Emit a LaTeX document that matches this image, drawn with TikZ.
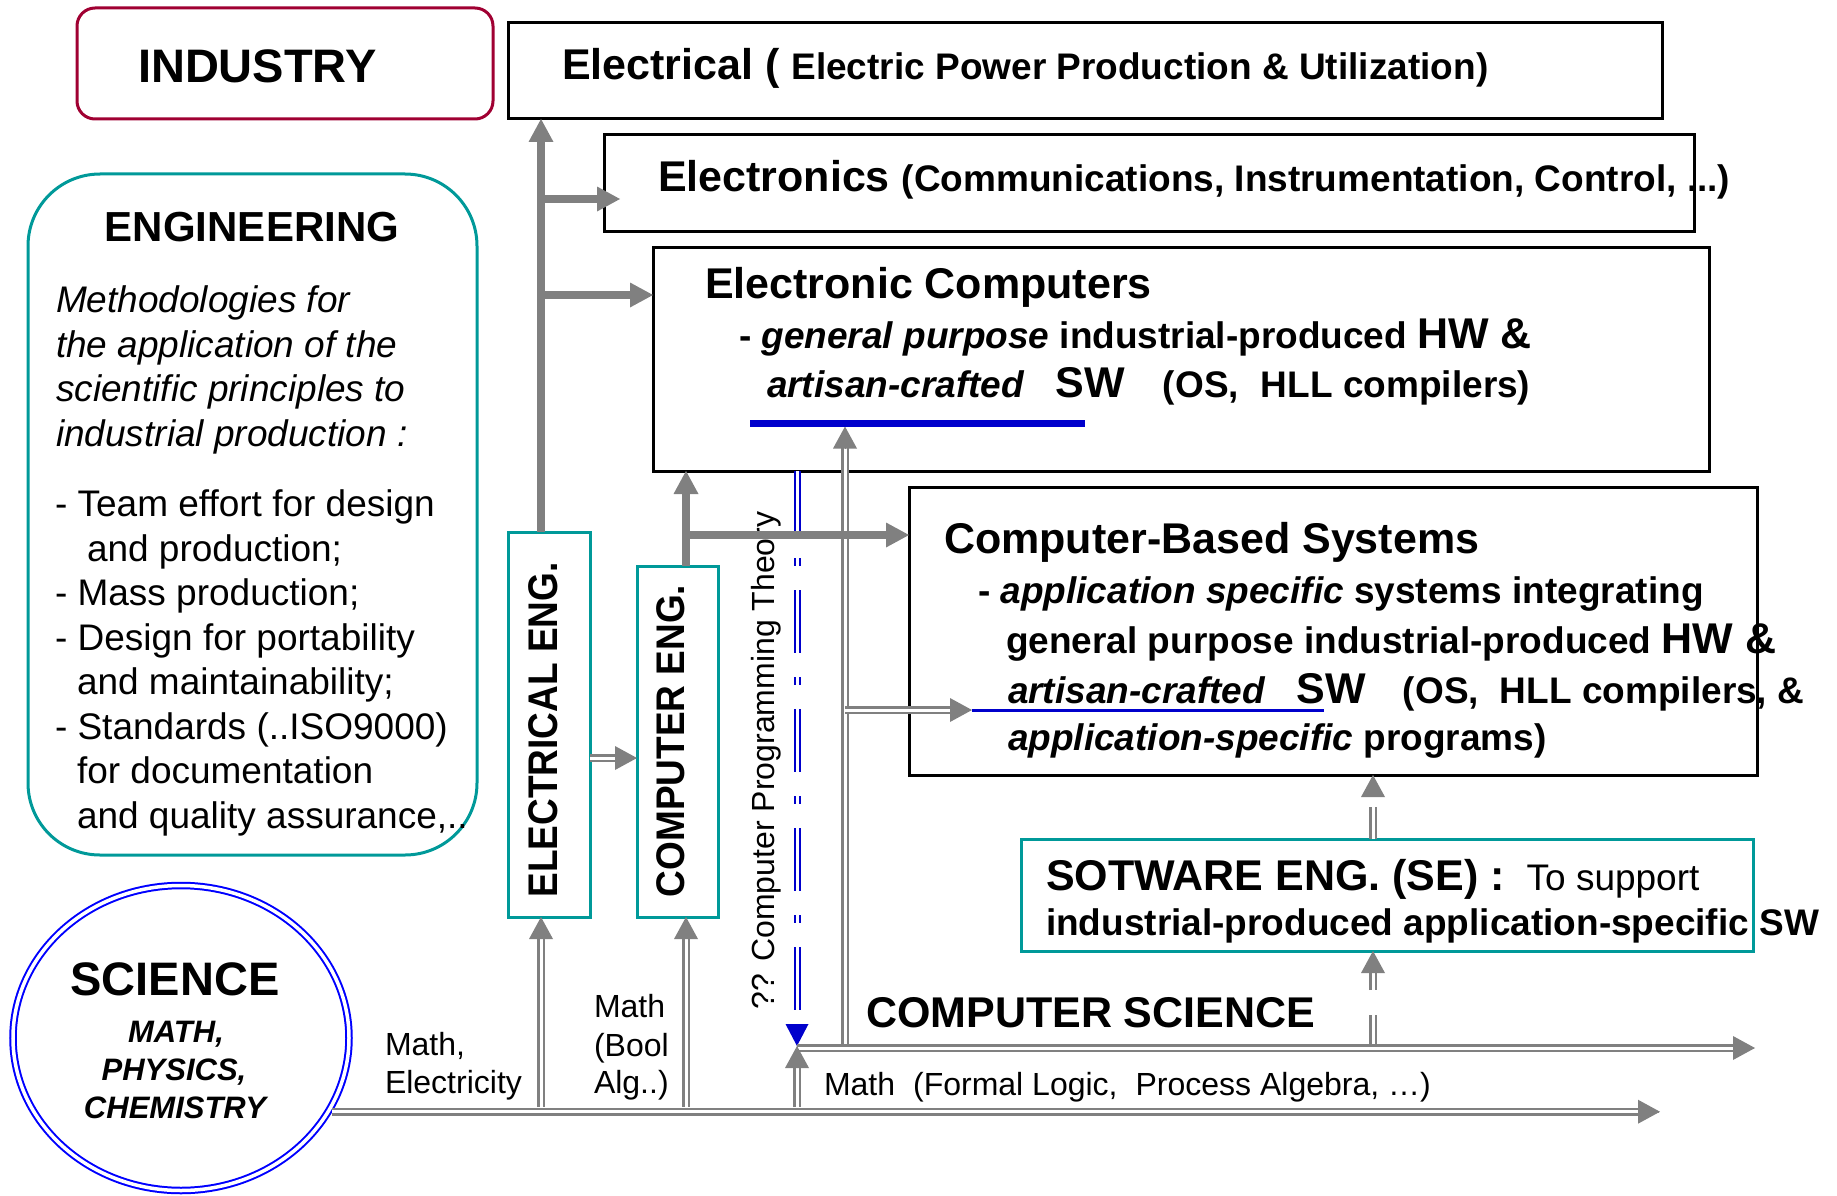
\documentclass[tikz,border=0pt]{standalone}
\usepackage{fontspec}
\setmainfont{Liberation Sans}
\usepackage{graphicx}
\usetikzlibrary{arrows.meta,shapes.geometric,calc}

\definecolor{engteal}{RGB}{0,153,153}
\definecolor{indred}{RGB}{160,0,50}
\definecolor{sciblue}{RGB}{0,0,255}
\definecolor{ulblue}{RGB}{0,0,204}
\definecolor{arrgray}{RGB}{128,128,128}

\newcommand\fsz[1]{\fontsize{#1}{#1}\selectfont}
% double-lined gray connector: hollow shaft, then a solid head
\newcommand\darrow[3][]{%
  \draw[dshaft,#1] (#2) -- (#3);
  \draw[dtip] ($(#3)!1pt!(#2)$) -- (#3);}

\tikzset{
  plainbox/.style={draw=black, line width=3pt, rectangle, inner sep=0pt, outer sep=0pt, anchor=north west},
  tealbox/.style={draw=engteal, line width=3pt, rectangle, inner sep=0pt, outer sep=0pt, anchor=north west},
  roundbox/.style={draw=#1, line width=3pt, rectangle, inner sep=0pt, outer sep=0pt, anchor=north west},
  txt/.style={inner sep=0pt, outer sep=0pt, anchor=base west},
  thickarrow/.style={draw=arrgray, line width=8pt, -{Triangle[length=23pt,width=25pt,line width=0pt]}},
  dshaft/.style={draw=arrgray, line width=2.3pt, double=white, double distance=3pt, shorten >=21pt},
  dtip/.style={draw=arrgray, line width=0.1pt, -{Triangle[length=22pt,width=24pt,line width=0pt]}},
  bshaft/.style={draw=ulblue, line width=2pt, double=white, double distance=3pt, shorten >=21pt,
                 dash pattern=on 63pt off 24pt on 8pt off 24pt},
  btip/.style={draw=ulblue, line width=0.1pt, -{Triangle[length=22pt,width=23pt,line width=0pt]}},
  ulthick/.style={draw=ulblue, line width=7pt},
  ulthin/.style={draw=ulblue, line width=3pt},
}

\begin{document}
\begin{tikzpicture}[x=1pt,y=-1pt]
\useasboundingbox (0,0) rectangle (1837,1196);

% ---------- boxes ----------
\node[roundbox=indred, rounded corners=18pt, minimum width=416pt, minimum height=111pt] (ind) at (77,8) {};
\node[roundbox=engteal, rounded corners=72pt, minimum width=449pt, minimum height=681pt] (eng) at (28,174) {};
\node[plainbox, minimum width=1154pt, minimum height=96pt] (elec) at (508,23) {};
\node[plainbox, minimum width=1090pt, minimum height=96pt] (etrs) at (604,135) {};
\node[plainbox, minimum width=1056pt, minimum height=224pt] (ecomp) at (653,247) {};
\node[plainbox, minimum width=848pt, minimum height=288pt] (cbs) at (909,487) {};
\node[tealbox, minimum width=732pt, minimum height=112pt] (se) at (1021,839) {};
\node[tealbox, minimum width=82pt, minimum height=385pt] (eleng) at (508,532) {};
\node[tealbox, minimum width=81pt, minimum height=351pt] (ceng) at (637,566) {};
\node[ellipse, draw=sciblue, line width=2pt, double=white, double distance=3.5pt,
      minimum width=336pt, minimum height=305pt, inner sep=0pt, outer sep=3.5pt] (sci) at (181,1038) {};

% ---------- texts ----------
\node[txt] (t-ind) at (138,83) {\bfseries\fsz{47}INDUSTRY};

\node[txt, anchor=base] (t-eng) at (252,241) {\bfseries\fsz{42}ENGINEERING};
\node[txt] (t-m1) at (56,312) {\itshape\fsz{37}Methodologies for};
\node[txt] (t-m2) at (56,357) {\itshape\fsz{37}the application of the};
\node[txt] (t-m3) at (56,401) {\itshape\fsz{37}scientific principles to};
\node[txt] (t-m4) at (56,446) {\itshape\fsz{37}industrial production :};
\node[txt] (t-b1) at (55,516) {\fsz{37}- Team effort for design};
\node[txt] (t-b2) at (87,561) {\fsz{37}and production;};
\node[txt] (t-b3) at (55,605) {\fsz{37}- Mass production;};
\node[txt] (t-b4) at (55,650) {\fsz{37}- Design for portability};
\node[txt] (t-b5) at (77,694) {\fsz{37}and maintainability;};
\node[txt] (t-b6) at (55,739) {\fsz{37}- Standards (..ISO9000)};
\node[txt] (t-b7) at (77,783) {\fsz{37}for documentation};
\node[txt] (t-b8) at (77,828) {\fsz{37}and quality assurance,..};

\node[txt] (t-elec) at (562,80) {\bfseries\fsz{43}Electrical ( {\fsz{37}Electric Power Production \& Utilization)}};
\node[txt] (t-etrs) at (658,192) {\bfseries\fsz{43}Electronics {\fsz{37}(Communications, Instrumentation, Control, ...)}};

\node[txt] (t-ec1) at (705,298) {\bfseries\fsz{43}Electronic Computers};
\node[txt] (t-ec2) at (739,348) {\bfseries\fsz{37}- \textit{general purpose} industrial-produced {\fsz{43}HW \&}};
\node[txt] (t-ec3) at (767,397) {\bfseries\fsz{37}\textit{artisan-crafted}\hspace{31pt}{\fsz{43}SW}\hspace{38pt}(OS,\hspace{22pt}HLL compilers)};

\node[txt] (t-cb1) at (944,553) {\bfseries\fsz{43}Computer-Based Systems};
\node[txt] (t-cb2) at (978,603) {\bfseries\fsz{37}- \textit{application specific} systems integrating};
\node[txt] (t-cb3) at (1006,653) {\bfseries\fsz{37}general purpose industrial-produced {\fsz{43}HW \&}};
\node[txt] (t-cb4) at (1008,703) {\bfseries\fsz{37}\textit{artisan-crafted}\hspace{31pt}{\fsz{43}SW}\hspace{37pt}(OS,\hspace{21pt}HLL compilers, \&};
\node[txt] (t-cb5) at (1008,750) {\bfseries\fsz{37}\textit{application-specific} programs)};

\node[txt] (t-se1) at (1046,890) {\bfseries\fsz{43}SOTWARE ENG. (SE) :\hspace{22pt}{\mdseries\fsz{37}To support}};
\node[txt] (t-se2) at (1046,935) {\bfseries\fsz{37}industrial-produced application-specific SW};

\node[rotate=90, inner sep=0pt] (t-eleng) at (543,730) {\bfseries\fsz{37}\scalebox{1}[1.12]{ELECTRICAL ENG.}};
\node[rotate=90, inner sep=0pt] (t-ceng) at (671,741) {\bfseries\fsz{37}\scalebox{1}[1.08]{COMPUTER ENG.}};
\node[txt, rotate=90] (t-cpt) at (774,1009) {\fsz{32}?? Computer Programming Theory};

\node[txt, anchor=base] (t-sci) at (175,995) {\bfseries\fsz{47}SCIENCE};
\node[txt, anchor=base] (t-s1) at (176,1042) {\bfseries\itshape\fsz{31}MATH,};
\node[txt, anchor=base] (t-s2) at (174,1080) {\bfseries\itshape\fsz{31}PHYSICS,};
\node[txt, anchor=base] (t-s3) at (175,1118) {\bfseries\itshape\fsz{31}CHEMISTRY};

\node[txt] (l-me1) at (385,1055) {\fsz{32}Math,};
\node[txt] (l-me2) at (385,1093) {\fsz{32}Electricity};
\node[txt] (l-mb1) at (594,1017) {\fsz{32}Math};
\node[txt] (l-mb2) at (594,1056) {\fsz{32}(Bool};
\node[txt] (l-mb3) at (594,1093) {\fsz{32}Alg..)};
\node[txt] (l-mf) at (824,1095) {\fsz{32}Math\hspace{18pt}(Formal Logic,\hspace{18pt}Process Algebra, …)};
\node[txt] (t-cs) at (866,1027) {\bfseries\fsz{43}COMPUTER SCIENCE};

% ---------- routing coordinates ----------
\coordinate (xE) at (541,0);
\coordinate (xC) at (686,0);
\coordinate (xB) at (797,0);
\coordinate (xS) at (845,0);
\coordinate (xW) at (1373,0);
\coordinate (yA) at (0,199);
\coordinate (yB) at (0,295);
\coordinate (yC) at (0,535);
\coordinate (yD) at (0,758);
\coordinate (yU) at (0,710);
\coordinate (yS) at (0,1048);
\coordinate (ySt) at (0,1044);
\coordinate (yMt) at (0,1107);
\coordinate (yTip) at (0,1046);
\coordinate (ulA) at (750,423);
\coordinate (ulB) at (1085,423);
\coordinate (ulC) at (972,710);
\coordinate (ulD) at (1324,710);
\coordinate (mEnd) at (1660,0);
\coordinate (csEnd) at (1755,1048);

% ---------- blue dashed link: theory into computer science ----------
\coordinate (b0) at (ecomp.south -| xB);
\coordinate (b1) at (xB |- yTip);
\draw[bshaft] (b0) -- (b1);
\draw[btip] ($(b1)!1pt!(b0)$) -- (b1);

% ---------- double gray connectors ----------
\coordinate (m0) at (sci.-26.35);
\coordinate (m1) at (m0 -| mEnd);
\darrow{m0}{m1}
\coordinate (cs0) at (xB |- yS);
\darrow{cs0}{csEnd}
\coordinate (d1a) at (eleng.east |- yD);
\coordinate (d1b) at (ceng.west |- yD);
\darrow{d1a}{d1b}
\coordinate (d2a) at (xE |- yMt);
\coordinate (d2b) at (eleng.south -| xE);
\darrow{d2a}{d2b}
\coordinate (d3a) at (xC |- yMt);
\coordinate (d3b) at (ceng.south -| xC);
\darrow{d3a}{d3b}
\coordinate (d4a) at (xB |- yMt);
\coordinate (d4b) at (xB |- yTip);
\darrow[shorten >=16pt]{d4a}{d4b}
\coordinate (d5a) at (xS |- ySt);
\coordinate (d5b) at ($(xS |- ulA)+(0,3.5)$);
\darrow{d5a}{d5b}
\coordinate (d6a) at (xS |- yU);
\darrow{d6a}{ulC}
\coordinate (d7a) at (xW |- ySt);
\coordinate (d7b) at (se.south -| xW);
\darrow[dash pattern=on 29pt off 25pt on 60pt]{d7a}{d7b}
\coordinate (d8a) at (se.north -| xW);
\coordinate (d8b) at (cbs.south -| xW);
\darrow[shorten >=32pt]{d8a}{d8b}

% ---------- thick gray connectors ----------
\draw[thickarrow] (eleng.north -| xE) -- (elec.south -| xE);
\draw[thickarrow] (xE |- yA) -- ($(etrs.west |- yA)+(16,0)$);
\draw[thickarrow] (xE |- yB) -- (ecomp.west |- yB);
\draw[thickarrow] (ceng.north -| xC) -- (ecomp.south -| xC);
\draw[thickarrow] (xC |- yC) -- (cbs.west |- yC);

% ---------- blue underlines ----------
\draw[ulthick] (ulA) -- (ulB);
\draw[ulthin] (ulC) -- (ulD);
\end{tikzpicture}
\end{document}
